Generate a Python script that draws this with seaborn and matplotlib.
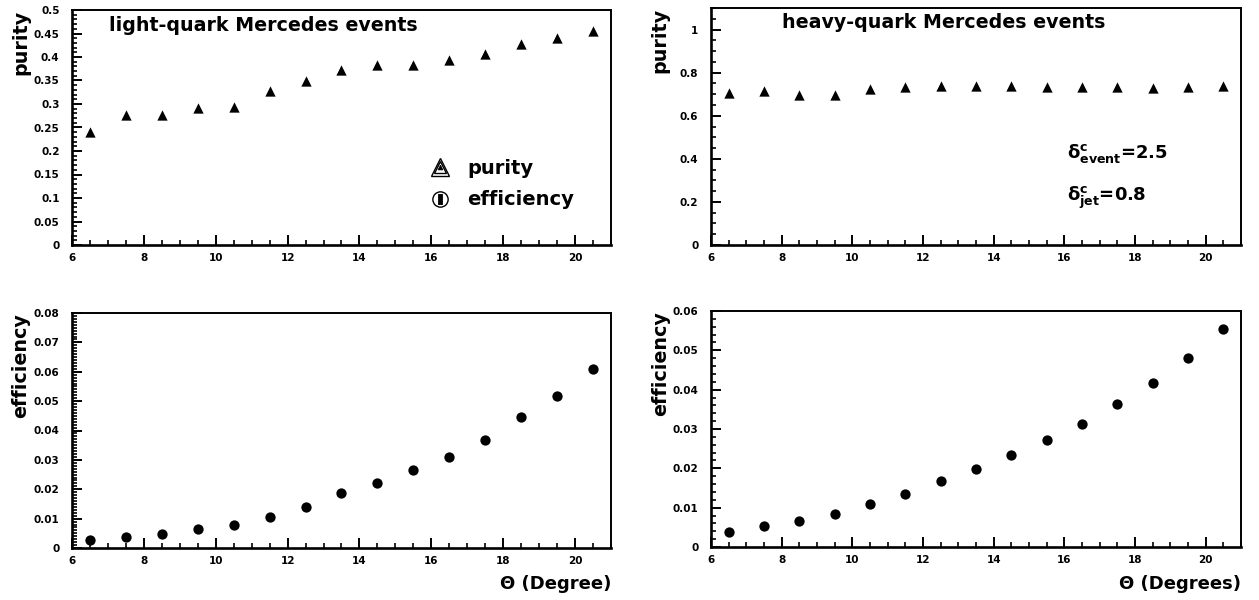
import numpy as np
import pandas as pd
import matplotlib
matplotlib.use("Agg")
import matplotlib.pyplot as plt
from matplotlib.ticker import MultipleLocator, FuncFormatter
from matplotlib.lines import Line2D
from matplotlib.legend_handler import HandlerTuple
import seaborn as sns

# ---------------- data ----------------
theta = [6.5, 7.5, 8.5, 9.5, 10.5, 11.5, 12.5, 13.5, 14.5, 15.5, 16.5, 17.5, 18.5, 19.5, 20.5]
light_purity = [0.241, 0.277, 0.277, 0.291, 0.293, 0.328, 0.349, 0.372, 0.383, 0.384,
                0.394, 0.407, 0.428, 0.440, 0.456]
heavy_purity = [0.705, 0.713, 0.698, 0.698, 0.726, 0.732, 0.736, 0.736, 0.738, 0.733,
                0.732, 0.735, 0.730, 0.733, 0.740]
light_eff = [0.0026, 0.0037, 0.0049, 0.0064, 0.0078, 0.0107, 0.0141, 0.0187, 0.0222, 0.0264,
             0.0310, 0.0367, 0.0445, 0.0519, 0.0610]
heavy_eff = [0.0037, 0.0053, 0.0067, 0.0084, 0.0110, 0.0136, 0.0167, 0.0198, 0.0233, 0.0271,
             0.0313, 0.0364, 0.0416, 0.0480, 0.0554]

title_light = "light-quark Mercedes events"
title_heavy = "heavy-quark Mercedes events"
xlabel_light = "Θ (Degree)"
xlabel_heavy = "Θ (Degrees)"
legend_labels = ["purity", "efficiency"]

# ---------------- style ----------------
sns.set_style("ticks")
plt.rcParams["font.family"] = ["DejaVu Sans"]
plt.rcParams["font.weight"] = "bold"
plt.rcParams["axes.labelweight"] = "bold"
plt.rcParams["mathtext.fontset"] = "dejavusans"
for key in ["text.color", "axes.labelcolor", "xtick.color", "ytick.color", "axes.edgecolor"]:
    plt.rcParams[key] = "black"

W, H = 1259, 600
fig = plt.figure(figsize=(W / 100, H / 100), dpi=100)


def box(l, t, r, b):
    return [l / W, (H - b) / H, (r - l) / W, (b - t) / H]


ax_tl = fig.add_axes(box(72, 10, 611, 245))
ax_tr = fig.add_axes(box(711, 8, 1241, 245))
ax_bl = fig.add_axes(box(72, 313, 611, 548))
ax_br = fig.add_axes(box(711, 311, 1241, 547))

fmt = FuncFormatter(lambda v, p: "%g" % round(v, 4))


def style(ax, ylim, major, minor, ylabel):
    ax.set_xlim(6, 21)
    ax.set_ylim(*ylim)
    ax.xaxis.set_major_locator(MultipleLocator(2))
    ax.xaxis.set_minor_locator(MultipleLocator(0.5))
    ax.yaxis.set_major_locator(MultipleLocator(major))
    ax.yaxis.set_minor_locator(MultipleLocator(minor))
    ax.yaxis.set_major_formatter(fmt)
    ax.xaxis.set_major_formatter(FuncFormatter(lambda v, p: "%d" % v))
    ax.tick_params(which="major", direction="in", length=7.2, width=1.4,
                   labelsize=7.5, top=False, right=False, colors="black")
    ax.tick_params(axis="y", which="major", pad=9)
    ax.tick_params(axis="x", which="major", pad=5.5)
    ax.tick_params(which="minor", direction="in", length=3.6, width=1.2,
                   top=False, right=False, colors="black")
    for lab in ax.get_xticklabels() + ax.get_yticklabels():
        lab.set_fontweight("bold")
    for s in ax.spines.values():
        s.set_visible(True)
        s.set_linewidth(1.4)
        s.set_color("black")
    ax.spines["left"].set_linewidth(1.9)
    ax.spines["bottom"].set_linewidth(1.9)
    ax.set_ylabel(ylabel, fontsize=13.8, fontweight="bold", loc="top", color="black")
    ax.yaxis.set_label_coords(-0.078, 1.0)
    ax.set_xlabel("")


# top-left: light-quark purity
sns.scatterplot(x=theta, y=light_purity, marker="^", color="black", s=55,
                linewidth=0, ax=ax_tl, legend=False)
style(ax_tl, (0, 0.5), 0.05, 0.01, "purity")
ax_tl.text(0.069, 0.975, title_light, transform=ax_tl.transAxes, fontsize=13.7,
           fontweight="bold", ha="left", va="top", color="black")

tri = (Line2D([], [], marker="^", ls="none", ms=13, mfc="white", mec="black", mew=1.0),
       Line2D([], [], marker="^", ls="none", ms=8, mfc="white", mec="black", mew=1.0),
       Line2D([], [], marker="^", ls="none", ms=3.5, mfc="black", mec="black", mew=0.5))
circ = (Line2D([], [], marker="o", ls="none", ms=11, mfc="white", mec="black", mew=1.0),
        Line2D([], [], marker=r"$|\!|\!|$", ls="none", ms=7, mfc="black", mec="black", mew=0.6))
ax_tl.legend([tri, circ], legend_labels, handler_map={tuple: HandlerTuple(ndivide=1)},
             loc="upper left", bbox_to_anchor=(0.664, 0.365), frameon=False,
             handlelength=1.0, handletextpad=0.93, labelspacing=0.63,
             borderpad=0, borderaxespad=0, prop={"weight": "bold", "size": 14},
             labelcolor="black")

# top-right: heavy-quark purity
sns.scatterplot(x=theta, y=heavy_purity, marker="^", color="black", s=55,
                linewidth=0, ax=ax_tr, legend=False)
style(ax_tr, (0, 1.1), 0.2, 0.05, "purity")
ax_tr.text(0.134, 0.98, title_heavy, transform=ax_tr.transAxes, fontsize=13.7,
           fontweight="bold", ha="left", va="top", color="black")
ax_tr.text(0.672, 0.387, r"$\mathrm{\delta}_{\mathbf{event}}^{\mathbf{c}}$=2.5",
           transform=ax_tr.transAxes, fontsize=13, fontweight="bold", ha="left",
           va="center", color="black")
ax_tr.text(0.672, 0.197, r"$\mathrm{\delta}_{\mathbf{jet}}^{\mathbf{c}}$=0.8",
           transform=ax_tr.transAxes, fontsize=13, fontweight="bold", ha="left",
           va="center", color="black")

# bottom-left: light-quark efficiency
sns.scatterplot(x=theta, y=light_eff, marker="o", color="black", s=55,
                linewidth=0, ax=ax_bl, legend=False)
style(ax_bl, (0, 0.08), 0.01, 0.001, "efficiency")
ax_bl.set_xlabel(xlabel_light, fontsize=13, fontweight="bold", loc="right", color="black")
ax_bl.xaxis.set_label_coords(1.0, -0.117)

# bottom-right: heavy-quark efficiency
sns.scatterplot(x=theta, y=heavy_eff, marker="o", color="black", s=55,
                linewidth=0, ax=ax_br, legend=False)
style(ax_br, (0, 0.06), 0.01, 0.002, "efficiency")
ax_br.set_xlabel(xlabel_heavy, fontsize=13, fontweight="bold", loc="right", color="black")
ax_br.xaxis.set_label_coords(1.0, -0.117)

fig.savefig("out.png", dpi=100)
